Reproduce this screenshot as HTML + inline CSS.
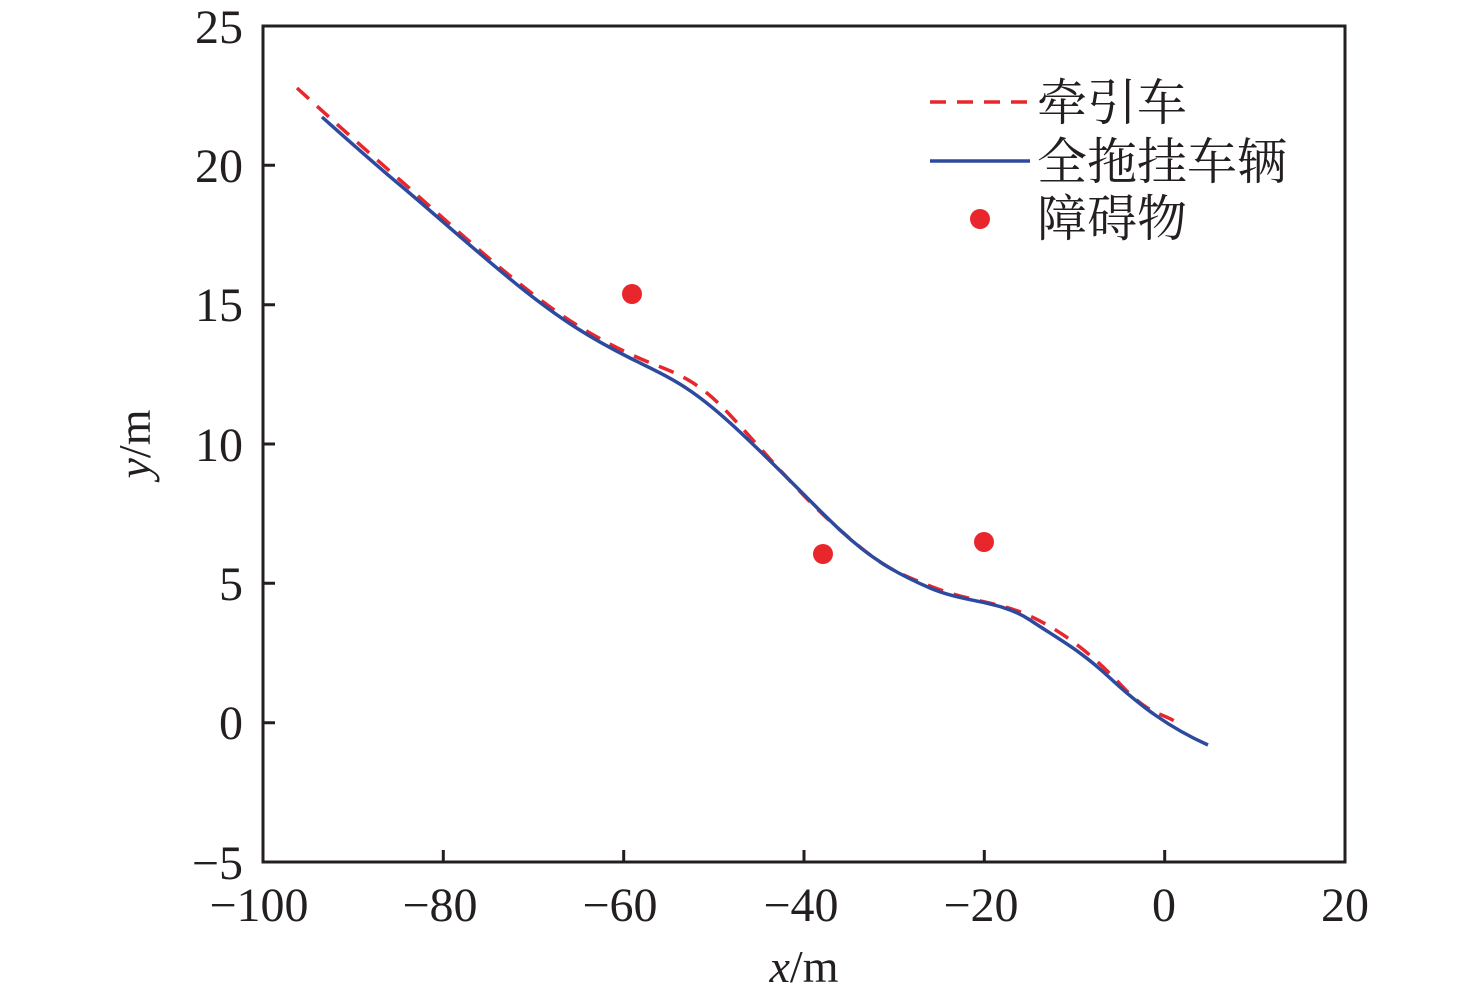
<!DOCTYPE html>
<html><head><meta charset="utf-8"><style>body{margin:0;background:#fff}svg{display:block}</style></head>
<body>
<svg width="1476" height="999" xmlns="http://www.w3.org/2000/svg" font-family="Liberation Serif, Noto Serif CJK SC, serif">
<rect width="1476" height="999" fill="#fff"/>
<g stroke="#231f20" stroke-width="3" fill="none">
<rect x="263" y="26" width="1082" height="836"/>
<path d="M443.3,862v-12M623.7,862v-12M804,862v-12M984.3,862v-12M1164.7,862v-12M263,165.3h12M263,304.7h12M263,444h12M263,583.3h12M263,722.7h12"/>
</g>
<g font-size="48" fill="#231f20" text-anchor="middle">
<text x="259" y="921">−100</text><text x="440" y="921">−80</text><text x="620" y="921">−60</text><text x="801" y="921">−40</text><text x="981" y="921">−20</text><text x="1164" y="921">0</text><text x="1345" y="921">20</text>
</g>
<g font-size="48" fill="#231f20" text-anchor="end">
<text x="243" y="43">25</text><text x="243" y="182">20</text><text x="243" y="321">15</text><text x="243" y="461">10</text><text x="243" y="600">5</text><text x="243" y="739">0</text><text x="243" y="879">−5</text>
</g>
<text x="804" y="982" font-size="46" text-anchor="middle" fill="#231f20"><tspan font-style="italic">x</tspan>/m</text>
<text transform="translate(150,444) rotate(-90)" font-size="46" text-anchor="middle" fill="#231f20"><tspan font-style="italic">y</tspan>/m</text>
<path d="M297,88 C330,118 360,145 400,180 S480,252 520,284 S590,335 630,354 S690,372 730,415 S800,495 840,530 S890,570 930,586 S1000,602 1030,616 S1090,652 1120,684 S1160,712 1176,722" fill="none" stroke="#e8262b" stroke-width="3.5" stroke-dasharray="16,11"/>
<path d="M322,117 C340,133 370,160 400,185 S480,255 520,287 S590,338 630,358 S690,385 740,432 S810,502 840,530 S895,573 930,588 S1000,600 1030,620 S1080,650 1110,678 S1170,728 1208,745" fill="none" stroke="#2e4a9e" stroke-width="3.5"/>
<g fill="#e8262b"><circle cx="632" cy="294" r="10"/><circle cx="823" cy="554" r="10"/><circle cx="984" cy="542" r="10"/><circle cx="980" cy="219" r="10"/></g>
<path d="M930,102h100" stroke="#e8262b" stroke-width="3.5" stroke-dasharray="16,11"/>
<path d="M930,161h100" stroke="#2e4a9e" stroke-width="3.5"/>
<g font-size="50" fill="#231f20"><text x="1037" y="120">牵引车</text><text x="1037" y="179">全拖挂车辆</text><text x="1037" y="236">障碍物</text></g>
</svg>
</body></html>
